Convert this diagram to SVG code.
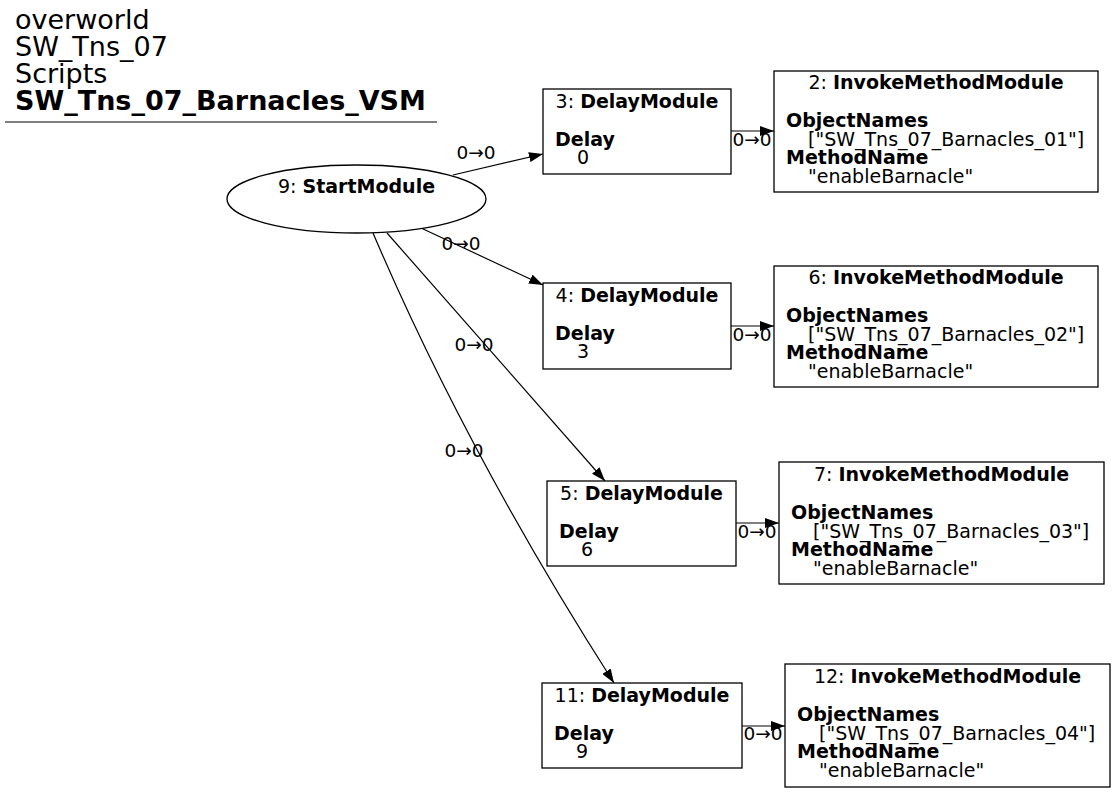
<svg xmlns="http://www.w3.org/2000/svg" width="1116" height="792" viewBox="0 0 1116 792">
<defs>
<style>
text{font-family:"DejaVu Sans","Liberation Sans",sans-serif;fill:#000}
.t{font-size:27px}
.n{font-size:19px}
.l{font-size:18.5px}
.b{font-weight:bold}
.c{text-anchor:middle}
.box{fill:#fff;stroke:#000;stroke-width:1.3}
.e{fill:none;stroke:#000;stroke-width:1.2}
</style>
<marker id="ah" markerUnits="userSpaceOnUse" markerWidth="14" markerHeight="10" viewBox="0 0 14 10" refX="14" refY="5" orient="auto">
<path d="M0,0 L14,5 L0,10 z" fill="#000"/>
</marker>
</defs>
<rect width="1116" height="792" fill="#fff"/>
<g id="title">
<text class="t" x="15" y="29">overworld</text>
<text class="t" x="15" y="56">SW_Tns_07</text>
<text class="t" x="15" y="83">Scripts</text>
<text class="t b" x="15" y="110">SW_Tns_07_Barnacles_VSM</text>
<line x1="5" y1="122" x2="437" y2="122" stroke="#000" stroke-width="1.2"/>
</g>
<g id="connectors">
<path class="e" d="M453,175 L543,154" marker-end="url(#ah)"/>
<text class="l c" x="476" y="159">0→0</text>
<path class="e" d="M421,228 L543,285" marker-end="url(#ah)"/>
<text class="l c" x="461" y="250">0→0</text>
<path class="e" d="M387,233 L605,481" marker-end="url(#ah)"/>
<text class="l c" x="474" y="351">0→0</text>
<path class="e" d="M373,233 C437,383 518,533 614,683" marker-end="url(#ah)"/>
<text class="l c" x="464" y="457">0→0</text>
<path class="e" d="M731,131 L774,131" marker-end="url(#ah)"/>
<text class="l c" x="752" y="146">0→0</text>
<path class="e" d="M731,326 L774,326" marker-end="url(#ah)"/>
<text class="l c" x="752" y="341">0→0</text>
<path class="e" d="M736,523 L779,523" marker-end="url(#ah)"/>
<text class="l c" x="757" y="538">0→0</text>
<path class="e" d="M742,726 L785,726" marker-end="url(#ah)"/>
<text class="l c" x="763" y="740">0→0</text>
</g>
<g id="n9">
<ellipse class="box" cx="356.5" cy="199" rx="129.5" ry="34"/>
<text class="n c" x="356.5" y="193">9: <tspan class="b">StartModule</tspan></text>
</g>
<g id="n3">
<rect class="box" x="543" y="89" width="188" height="85"/>
<text class="n c" x="637" y="108">3: <tspan class="b">DelayModule</tspan></text>
<text class="n b" x="555" y="146">Delay</text>
<text class="n" x="577" y="164">0</text>
</g>
<g id="n4">
<rect class="box" x="543" y="283" width="188" height="86"/>
<text class="n c" x="637" y="302">4: <tspan class="b">DelayModule</tspan></text>
<text class="n b" x="555" y="340">Delay</text>
<text class="n" x="577" y="358">3</text>
</g>
<g id="n5">
<rect class="box" x="547" y="481" width="189" height="85"/>
<text class="n c" x="641.5" y="500">5: <tspan class="b">DelayModule</tspan></text>
<text class="n b" x="559" y="538">Delay</text>
<text class="n" x="581" y="556">6</text>
</g>
<g id="n11">
<rect class="box" x="542" y="683" width="200" height="85"/>
<text class="n c" x="642" y="702">11: <tspan class="b">DelayModule</tspan></text>
<text class="n b" x="554" y="740">Delay</text>
<text class="n" x="576" y="758">9</text>
</g>
<g id="n2">
<rect class="box" x="774" y="71" width="324" height="121"/>
<text class="n c" x="936" y="89">2: <tspan class="b">InvokeMethodModule</tspan></text>
<text class="n b" x="786" y="127">ObjectNames</text>
<text class="n" x="808" y="146">["SW_Tns_07_Barnacles_01"]</text>
<text class="n b" x="786" y="164">MethodName</text>
<text class="n" x="808" y="183">"enableBarnacle"</text>
</g>
<g id="n6">
<rect class="box" x="774" y="266" width="324" height="121"/>
<text class="n c" x="936" y="284">6: <tspan class="b">InvokeMethodModule</tspan></text>
<text class="n b" x="786" y="322">ObjectNames</text>
<text class="n" x="808" y="341">["SW_Tns_07_Barnacles_02"]</text>
<text class="n b" x="786" y="359">MethodName</text>
<text class="n" x="808" y="378">"enableBarnacle"</text>
</g>
<g id="n7">
<rect class="box" x="779" y="462" width="325" height="122"/>
<text class="n c" x="941.5" y="481">7: <tspan class="b">InvokeMethodModule</tspan></text>
<text class="n b" x="791" y="519">ObjectNames</text>
<text class="n" x="813" y="538">["SW_Tns_07_Barnacles_03"]</text>
<text class="n b" x="791" y="556">MethodName</text>
<text class="n" x="813" y="575">"enableBarnacle"</text>
</g>
<g id="n12">
<rect class="box" x="785" y="664" width="325" height="123"/>
<text class="n c" x="947.5" y="683">12: <tspan class="b">InvokeMethodModule</tspan></text>
<text class="n b" x="797" y="721">ObjectNames</text>
<text class="n" x="819" y="740">["SW_Tns_07_Barnacles_04"]</text>
<text class="n b" x="797" y="758">MethodName</text>
<text class="n" x="819" y="777">"enableBarnacle"</text>
</g>
</svg>
